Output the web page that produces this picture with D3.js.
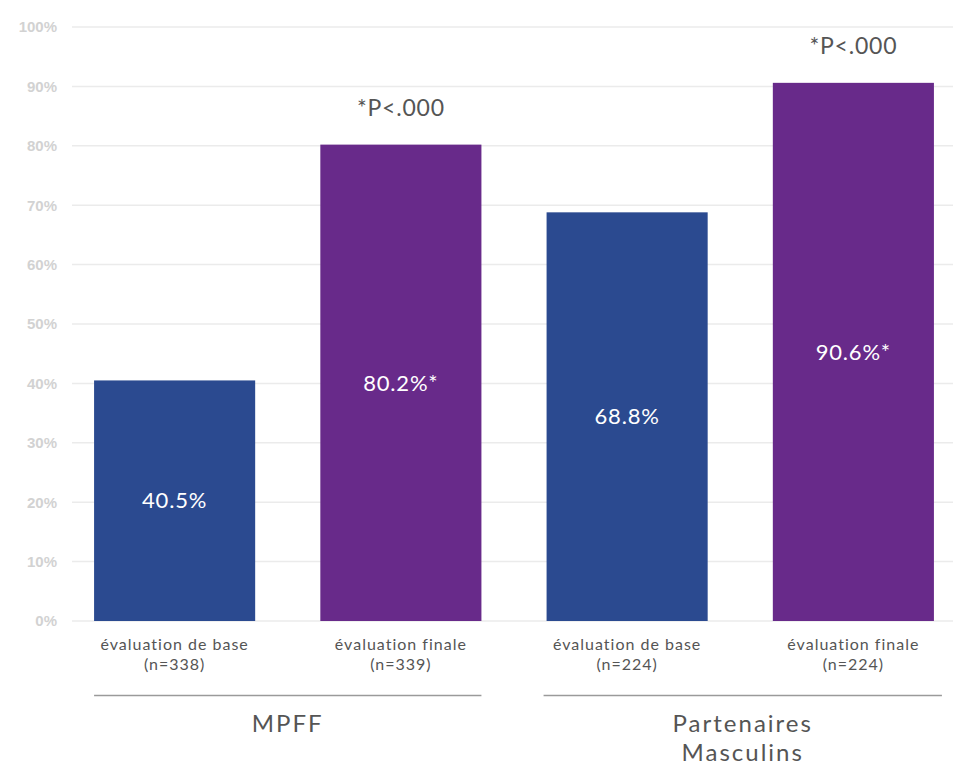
<!DOCTYPE html>
<html>
<head>
<meta charset="utf-8">
<script src="https://cdn.jsdelivr.net/npm/d3@7"></script>
<style>
  html, body { margin: 0; padding: 0; background: #ffffff; }
  svg { display: block; }
</style>
</head>
<body>
<svg id="chart" width="953" height="768"></svg>
<script>
// Bar categories, values and labels
const groups = ["MPFF", "Partenaires Masculins"];
const groupLines = [["MPFF"], ["Partenaires", "Masculins"]];
const barKeys = ["mpff-base", "mpff-final", "pm-base", "pm-final"];
const barGroup = [0, 0, 1, 1];
const barLabelTop = ["évaluation de base", "évaluation finale", "évaluation de base", "évaluation finale"];
const barLabelN = ["(n=338)", "(n=339)", "(n=224)", "(n=224)"];
const barValues = [40.5, 80.2, 68.8, 90.6];
const barStars = ["", "*", "", "*"];
const barNotes = ["", "*P<.000", "", "*P<.000"];
const barKind = ["base", "final", "base", "final"];
const yTicks = [0, 10, 20, 30, 40, 50, 60, 70, 80, 90, 100];

const colors = { base: "#2b4a90", final: "#682a8a" };

const svg = d3.select("#chart");

const y = d3.scaleLinear().domain([0, 100]).range([621, 27]);

const x = d3.scaleBand()
  .domain(barKeys)
  .range([61.5, 966.5])
  .paddingInner(0.288)
  .paddingOuter(0.144);

// Horizontal grid
svg.append("g")
  .selectAll("line")
  .data(yTicks)
  .join("line")
  .attr("x1", 72)
  .attr("x2", 953)
  .attr("y1", d => y(d))
  .attr("y2", d => y(d))
  .attr("stroke", "#ebebeb")
  .attr("stroke-width", 1.5);

// Y axis tick labels
const yAxis = d3.axisLeft(y).tickValues(yTicks).tickFormat(d => d + "%").tickSize(0).tickPadding(0);
const yg = svg.append("g").attr("transform", "translate(57,0)").call(yAxis);
yg.select(".domain").remove();
yg.selectAll("text")
  .attr("fill", "#d2d2d2")
  .style("font-family", "'Liberation Sans', Arial, sans-serif")
  .style("font-size", "15px")
  .style("font-weight", "bold");

// Bars
svg.append("g")
  .selectAll("rect")
  .data(barKeys)
  .join("rect")
  .attr("x", d => x(d))
  .attr("width", x.bandwidth())
  .attr("y", (d, i) => y(barValues[i]))
  .attr("height", (d, i) => y(0) - y(barValues[i]))
  .attr("fill", (d, i) => colors[barKind[i]]);

const font = "Lato, 'Open Sans', sans-serif";

// Value labels inside bars
svg.append("g")
  .selectAll("text")
  .data(barKeys)
  .join("text")
  .attr("x", d => x(d) + x.bandwidth() / 2)
  .attr("y", (d, i) => (y(barValues[i]) + y(0)) / 2)
  .attr("dy", "0.35em")
  .attr("text-anchor", "middle")
  .attr("fill", "#ffffff")
  .style("font-family", font)
  .style("font-size", "22px")
  .style("letter-spacing", "0.8px")
  .text((d, i) => barValues[i].toFixed(1) + "%" + barStars[i]);

// Significance notes above bars
svg.append("g")
  .selectAll("text")
  .data(barKeys.filter((d, i) => barNotes[i]))
  .join("text")
  .attr("x", d => x(d) + x.bandwidth() / 2)
  .attr("y", d => y(barValues[barKeys.indexOf(d)]) - 37)
  .attr("dy", "0.35em")
  .attr("text-anchor", "middle")
  .attr("fill", "#555555")
  .style("font-family", font)
  .style("font-size", "23px")
  .style("letter-spacing", "0.8px")
  .text(d => barNotes[barKeys.indexOf(d)]);

// Category labels under bars
const cat = svg.append("g")
  .selectAll("text")
  .data(barKeys)
  .join("text")
  .attr("text-anchor", "middle")
  .attr("fill", "#555555")
  .style("font-family", font)
  .style("font-size", "16px")
  .style("letter-spacing", "1px");
cat.append("tspan")
  .attr("x", d => x(d) + x.bandwidth() / 2)
  .attr("y", 650)
  .text((d, i) => barLabelTop[i]);
cat.append("tspan")
  .attr("x", d => x(d) + x.bandwidth() / 2)
  .attr("y", 670)
  .text((d, i) => barLabelN[i]);

// Group brackets and names
groups.forEach((g, gi) => {
  const keys = barKeys.filter((k, i) => barGroup[i] === gi);
  const x0 = x(keys[0]) - (gi === 1 ? 3 : 0);
  const x1 = x(keys[keys.length - 1]) + x.bandwidth() + (gi === 1 ? 8 : 0);
  svg.append("line")
    .attr("x1", x0).attr("x2", x1)
    .attr("y1", 695.5).attr("y2", 695.5)
    .attr("stroke", "#9a9a9a")
    .attr("stroke-width", 1.3);
  groupLines[gi].forEach((line, li) => {
    svg.append("text")
      .attr("text-anchor", "middle")
      .attr("fill", "#555555")
      .style("font-family", font)
      .style("font-size", "24px")
      .style("letter-spacing", "2px")
      .attr("x", (x0 + x1) / 2)
      .attr("y", 732 + li * 29)
      .text(line);
  });
});
</script>
</body>
</html>
